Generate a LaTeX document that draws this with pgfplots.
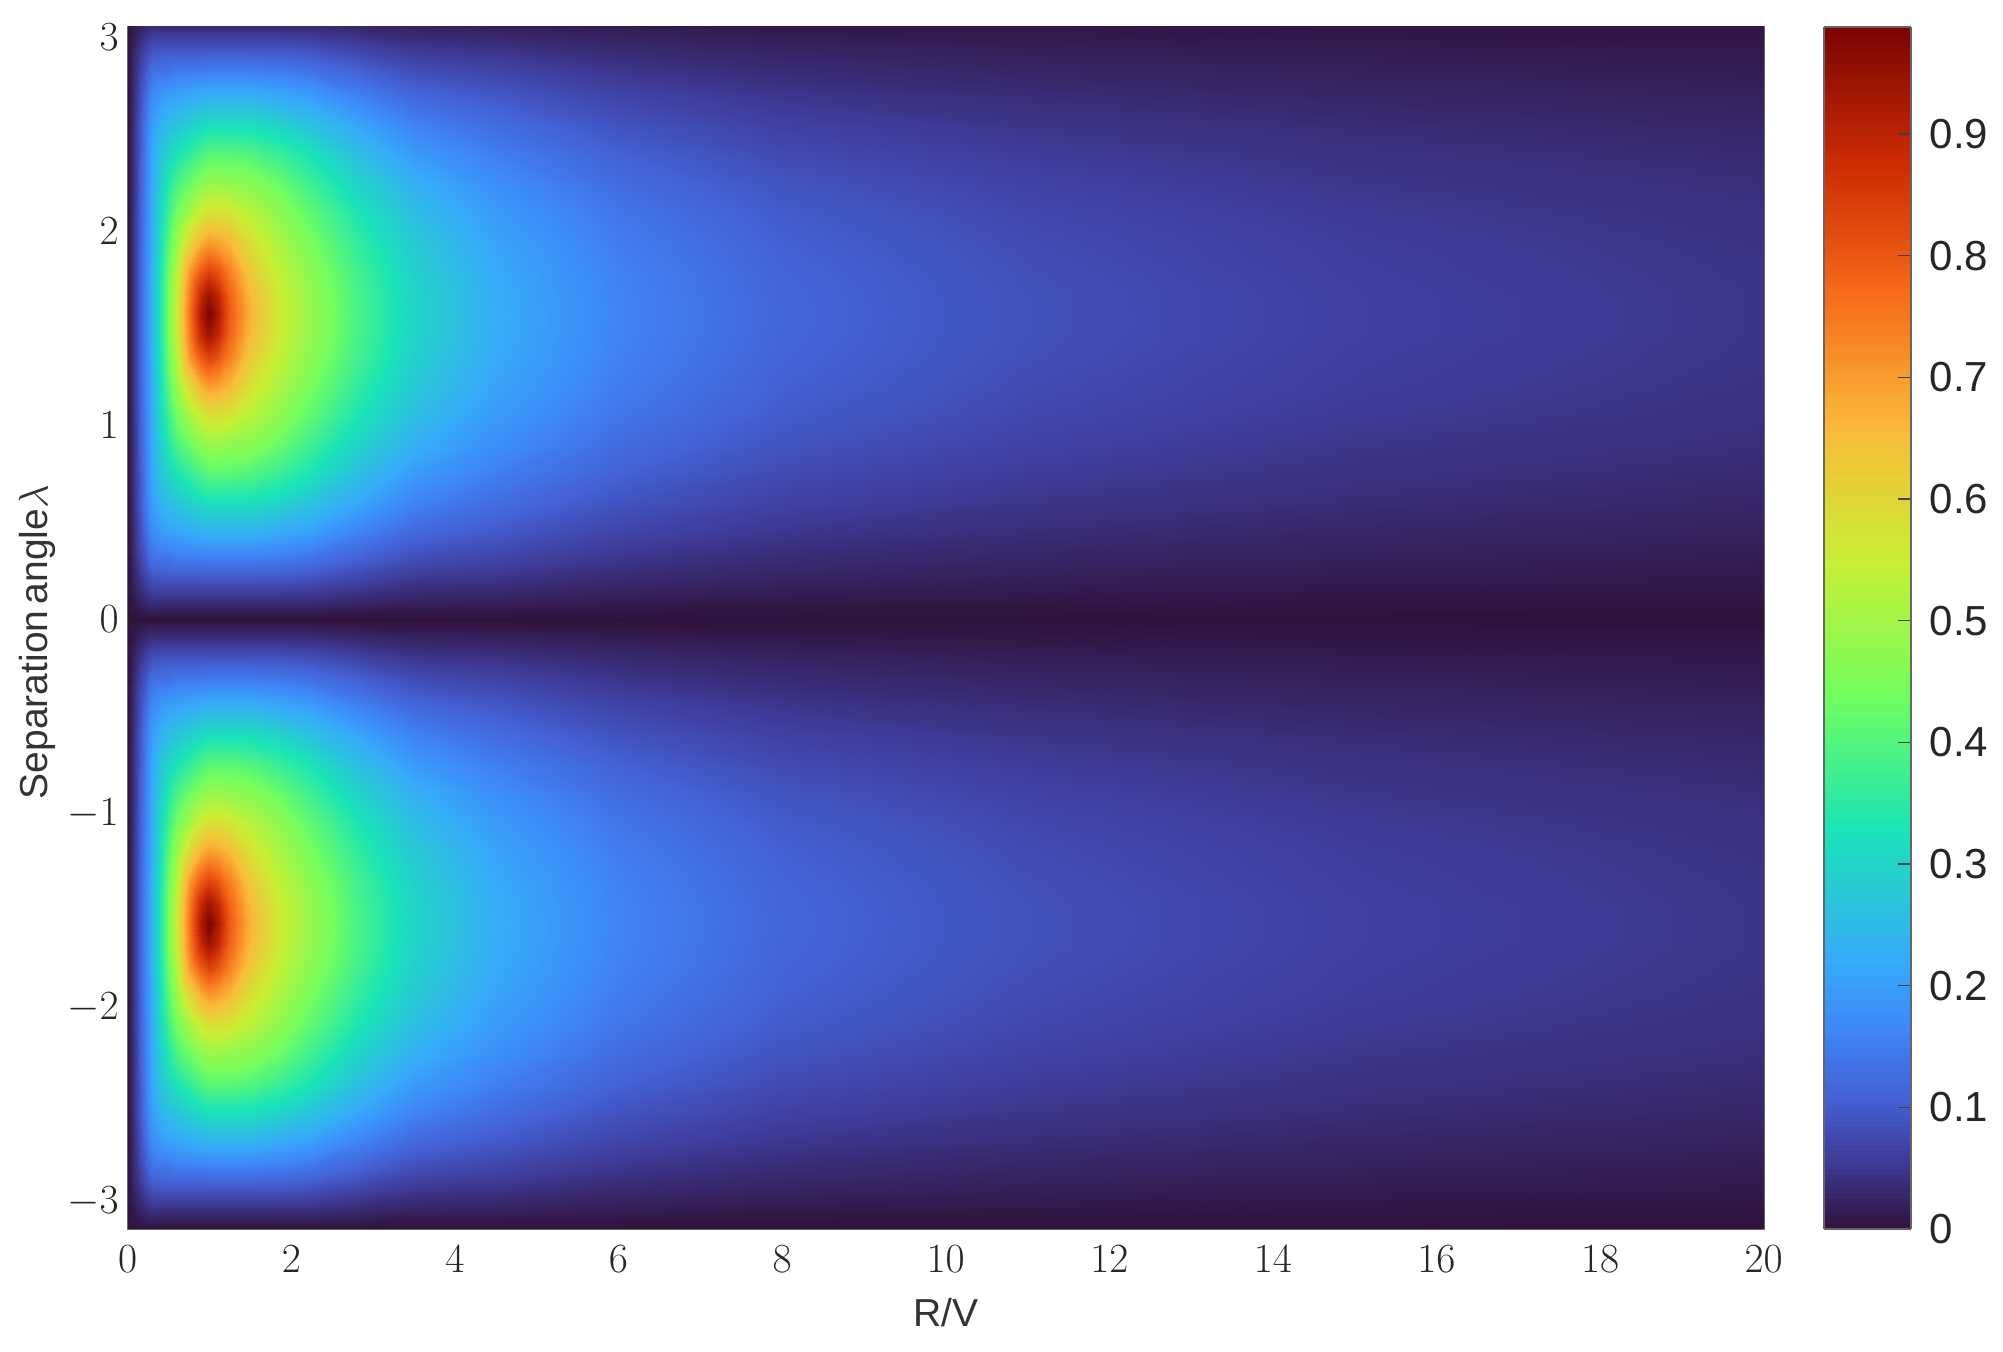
\documentclass[border=0pt]{standalone}
\usepackage{fontspec}
\setmainfont{Liberation Sans}
\usepackage{pgfplots}
\usepackage{pgfplotstable}
\pgfplotsset{compat=1.18}

% one quarter of the map, the rest is mirrored: r, distance d from lambda=pi/2, value
\pgfplotstableread[row sep=\\]{
r d z\\
0 0 0\\ 0 .1 0\\ 0 .22 0\\ 0 .37 0\\ 0 .52 0\\ 0 .67 0\\ 0 .82 0\\ 0 .97 0\\ 0 1.12 0\\ 0 1.27 0\\ 0 1.37 0\\ 0 1.47 0\\ 0 1.5708 0\\
.1 0 .07\\ .1 .1 .07\\ .1 .22 .069\\ .1 .37 .068\\ .1 .52 .067\\ .1 .67 .065\\ .1 .82 .063\\ .1 .97 .06\\ .1 1.12 .054\\ .1 1.27 .045\\ .1 1.37 .033\\ .1 1.47 .017\\ .1 1.5708 0\\
.2 0 .15\\ .2 .1 .15\\ .2 .22 .148\\ .2 .37 .146\\ .2 .52 .143\\ .2 .67 .14\\ .2 .82 .136\\ .2 .97 .128\\ .2 1.12 .113\\ .2 1.27 .085\\ .2 1.37 .06\\ .2 1.47 .03\\ .2 1.5708 0\\
.3 0 .24\\ .3 .1 .24\\ .3 .22 .235\\ .3 .37 .23\\ .3 .52 .225\\ .3 .67 .22\\ .3 .82 .215\\ .3 .97 .2\\ .3 1.12 .17\\ .3 1.27 .125\\ .3 1.37 .085\\ .3 1.47 .043\\ .3 1.5708 0\\
.45 0 .4\\ .45 .1 .4\\ .45 .22 .39\\ .45 .37 .37\\ .45 .52 .35\\ .45 .67 .32\\ .45 .82 .29\\ .45 .97 .25\\ .45 1.12 .2\\ .45 1.27 .13\\ .45 1.37 .09\\ .45 1.47 .04\\ .45 1.5708 0\\
.6 0 .56\\ .6 .1 .55\\ .6 .22 .53\\ .6 .37 .49\\ .6 .52 .44\\ .6 .67 .39\\ .6 .82 .33\\ .6 .97 .27\\ .6 1.12 .21\\ .6 1.27 .14\\ .6 1.37 .09\\ .6 1.47 .04\\ .6 1.5708 0\\
.75 0 .75\\ .75 .1 .74\\ .75 .22 .7\\ .75 .37 .59\\ .75 .52 .5\\ .75 .67 .43\\ .75 .82 .36\\ .75 .97 .29\\ .75 1.12 .22\\ .75 1.27 .14\\ .75 1.37 .09\\ .75 1.47 .04\\ .75 1.5708 0\\
.9 0 .92\\ .9 .1 .89\\ .9 .22 .8\\ .9 .37 .67\\ .9 .52 .56\\ .9 .67 .47\\ .9 .82 .39\\ .9 .97 .31\\ .9 1.12 .23\\ .9 1.27 .14\\ .9 1.37 .09\\ .9 1.47 .04\\ .9 1.5708 0\\
1 0 .988\\ 1 .1 .94\\ 1 .22 .84\\ 1 .37 .7\\ 1 .52 .58\\ 1 .67 .49\\ 1 .82 .41\\ 1 .97 .32\\ 1 1.12 .235\\ 1 1.27 .145\\ 1 1.37 .09\\ 1 1.47 .04\\ 1 1.5708 0\\
1.1 0 .92\\ 1.1 .1 .89\\ 1.1 .22 .81\\ 1.1 .37 .69\\ 1.1 .52 .58\\ 1.1 .67 .49\\ 1.1 .82 .41\\ 1.1 .97 .32\\ 1.1 1.12 .235\\ 1.1 1.27 .145\\ 1.1 1.37 .09\\ 1.1 1.47 .04\\ 1.1 1.5708 0\\
1.25 0 .79\\ 1.25 .1 .78\\ 1.25 .22 .74\\ 1.25 .37 .66\\ 1.25 .52 .57\\ 1.25 .67 .48\\ 1.25 .82 .41\\ 1.25 .97 .32\\ 1.25 1.12 .235\\ 1.25 1.27 .145\\ 1.25 1.37 .09\\ 1.25 1.47 .04\\ 1.25 1.5708 0\\
1.5 0 .67\\ 1.5 .1 .66\\ 1.5 .22 .63\\ 1.5 .37 .58\\ 1.5 .52 .53\\ 1.5 .67 .47\\ 1.5 .82 .4\\ 1.5 .97 .32\\ 1.5 1.12 .235\\ 1.5 1.27 .145\\ 1.5 1.37 .09\\ 1.5 1.47 .04\\ 1.5 1.5708 0\\
1.85 0 .56\\ 1.85 .1 .555\\ 1.85 .22 .54\\ 1.85 .37 .51\\ 1.85 .52 .475\\ 1.85 .67 .43\\ 1.85 .82 .37\\ 1.85 .97 .3\\ 1.85 1.12 .22\\ 1.85 1.27 .14\\ 1.85 1.37 .09\\ 1.85 1.47 .04\\ 1.85 1.5708 0\\
2.2 0 .49\\ 2.2 .1 .487\\ 2.2 .22 .475\\ 2.2 .37 .45\\ 2.2 .52 .42\\ 2.2 .67 .38\\ 2.2 .82 .335\\ 2.2 .97 .27\\ 2.2 1.12 .205\\ 2.2 1.27 .13\\ 2.2 1.37 .085\\ 2.2 1.47 .04\\ 2.2 1.5708 0\\
2.8 0 .39\\ 2.8 .1 .388\\ 2.8 .22 .38\\ 2.8 .37 .36\\ 2.8 .52 .335\\ 2.8 .67 .3\\ 2.8 .82 .26\\ 2.8 .97 .215\\ 2.8 1.12 .16\\ 2.8 1.27 .105\\ 2.8 1.37 .068\\ 2.8 1.47 .032\\ 2.8 1.5708 0\\
3.5 0 .3\\ 3.5 .1 .298\\ 3.5 .22 .292\\ 3.5 .37 .277\\ 3.5 .52 .256\\ 3.5 .67 .23\\ 3.5 .82 .197\\ 3.5 .97 .16\\ 3.5 1.12 .12\\ 3.5 1.27 .079\\ 3.5 1.37 .05\\ 3.5 1.47 .024\\ 3.5 1.5708 0\\
4.5 0 .225\\ 4.5 .1 .224\\ 4.5 .22 .22\\ 4.5 .37 .21\\ 4.5 .52 .195\\ 4.5 .67 .176\\ 4.5 .82 .153\\ 4.5 .97 .127\\ 4.5 1.12 .098\\ 4.5 1.27 .067\\ 4.5 1.37 .045\\ 4.5 1.47 .022\\ 4.5 1.5708 0\\
6 0 .16\\ 6 .1 .159\\ 6 .22 .156\\ 6 .37 .149\\ 6 .52 .139\\ 6 .67 .125\\ 6 .82 .109\\ 6 .97 .09\\ 6 1.12 .07\\ 6 1.27 .047\\ 6 1.37 .032\\ 6 1.47 .016\\ 6 1.5708 0\\
8 0 .115\\ 8 .1 .114\\ 8 .22 .112\\ 8 .37 .107\\ 8 .52 .1\\ 8 .67 .09\\ 8 .82 .078\\ 8 .97 .065\\ 8 1.12 .05\\ 8 1.27 .034\\ 8 1.37 .023\\ 8 1.47 .011\\ 8 1.5708 0\\
11 0 .085\\ 11 .1 .085\\ 11 .22 .083\\ 11 .37 .079\\ 11 .52 .074\\ 11 .67 .067\\ 11 .82 .058\\ 11 .97 .048\\ 11 1.12 .037\\ 11 1.27 .025\\ 11 1.37 .017\\ 11 1.47 .0085\\ 11 1.5708 0\\
15 0 .063\\ 15 .1 .063\\ 15 .22 .061\\ 15 .37 .059\\ 15 .52 .055\\ 15 .67 .049\\ 15 .82 .043\\ 15 .97 .036\\ 15 1.12 .027\\ 15 1.27 .019\\ 15 1.37 .013\\ 15 1.47 .006\\ 15 1.5708 0\\
20 0 .048\\ 20 .1 .048\\ 20 .22 .047\\ 20 .37 .045\\ 20 .52 .042\\ 20 .67 .038\\ 20 .82 .033\\ 20 .97 .027\\ 20 1.12 .021\\ 20 1.27 .014\\ 20 1.37 .01\\ 20 1.47 .005\\ 20 1.5708 0\\
}\quarter

\pgfplotsset{
  colormap={turbo}{
    rgb255(0pt)=(48,18,59) rgb255(1pt)=(62,58,150) rgb255(2pt)=(68,98,215)
    rgb255(3pt)=(62,135,248) rgb255(4pt)=(54,170,249) rgb255(6pt)=(26,228,182)
    rgb255(8pt)=(114,254,94) rgb255(10pt)=(200,239,52) rgb255(12pt)=(250,186,57)
    rgb255(14pt)=(246,107,25) rgb255(16pt)=(203,42,4) rgb255(18pt)=(122,4,3)
  },
  quarter/.style={surf,shader=interp,mesh/ordering=y varies,mesh/rows=13,forget plot},
}

\begin{document}
\begin{tikzpicture}
\useasboundingbox (-63.85pt,-61.5pt) rectangle (937.65pt,614.5pt);
\begin{axis}[
    at={(0,0)}, anchor=south west,
    scale only axis, width=818pt, height=601pt,
    xmin=0, xmax=20, ymin=-3.14, ymax=3.05,
    xtick={0,2,...,20}, ytick={-3,-2,...,3},
    axis line style={draw=black!60,line width=1pt},
    tick align=inside, major tick length=3pt,
    tick style={draw=black!45,line width=.6pt},
    tick label style={font=\huge,text=black!85},
    xticklabel style={yshift=-5pt},
    yticklabel style={xshift=-1pt},
    xlabel={R/V}, ylabel={Separation\,angle$\lambda$},
    label style={font=\fontsize{19.5}{24}\selectfont,text=black!80},
    xlabel style={yshift=-6pt},
    ylabel style={at={(ticklabel cs:0.4883)},yshift=-1pt},
    point meta min=0, point meta max=0.988,
    colormap name=turbo,
    colorbar sampled,
    colorbar style={
      samples=200,
      at={(parent axis.east)}, anchor=west, xshift=21.7pt,
      scale only axis, width=43.5pt, height=601pt,
      xmin=0, xmax=1,
      ymin=0, ymax=0.988,
      ytick={0,0.1,0.2,0.3,0.4,0.5,0.6,0.7,0.8,0.9},
      yticklabels={0,0.1,0.2,0.3,0.4,0.5,0.6,0.7,0.8,0.9},
      yticklabel pos=right, ytick pos=right,
      tick align=inside, major tick length=6.5pt,
      tick style={draw=black!75,line width=.7pt},
      yticklabel style={font=\fontsize{21}{24}\selectfont,text=black!85,xshift=5.7pt},
      axis line style={draw=black!60,line width=1pt},
    },
  ]
  \addplot[quarter] table[x=r,y expr=1.5708+\thisrow{d},point meta=\thisrow{z}] {\quarter};
  \addplot[quarter] table[x=r,y expr=1.5708-\thisrow{d},point meta=\thisrow{z}] {\quarter};
  \addplot[quarter] table[x=r,y expr=-1.5708+\thisrow{d},point meta=\thisrow{z}] {\quarter};
  \addplot[quarter] table[x=r,y expr=-1.5708-\thisrow{d},point meta=\thisrow{z}] {\quarter};
\end{axis}
\end{tikzpicture}
\end{document}
